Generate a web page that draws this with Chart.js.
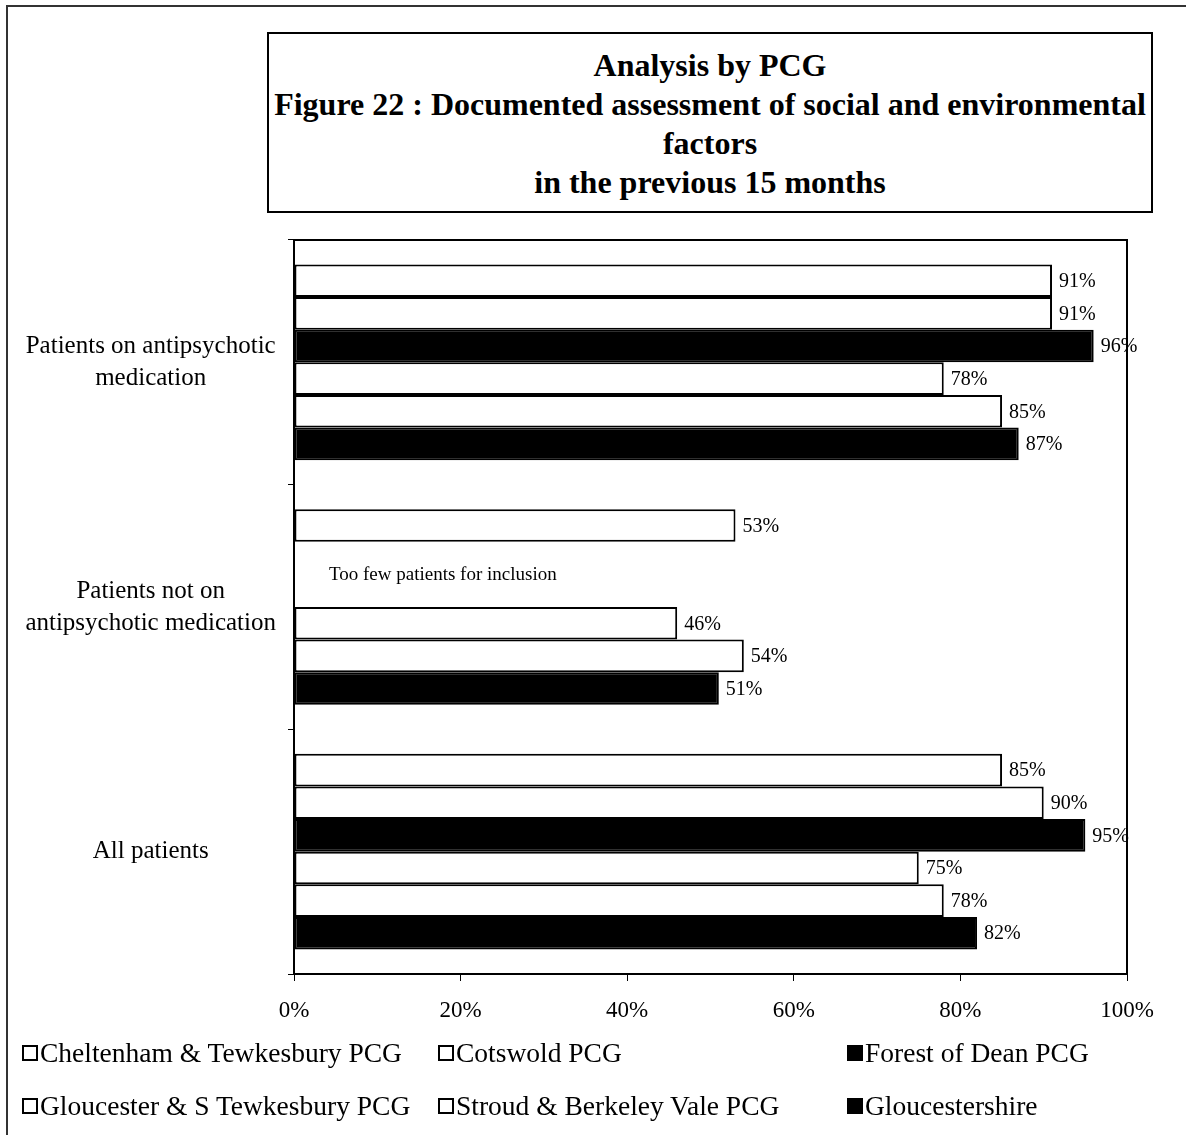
<!DOCTYPE html>
<html>
<head>
<meta charset="utf-8">
<script src="https://cdn.jsdelivr.net/npm/chart.js@4/dist/chart.umd.min.js"></script>
<style>
  html, body { margin: 0; padding: 0; background: #fff; }
  body { width: 1186px; height: 1135px; position: relative; overflow: hidden;
         font-family: "Liberation Serif", "Times New Roman", serif; color: #000; }
  #frame { position: absolute; left: 6px; top: 5px; right: -10px; bottom: -10px;
           border-top: 2px solid #333; border-left: 2px solid #333; }
  #chartWrap { position: absolute; left: 0; top: 0; width: 1186px; height: 1135px; }
  #titleBox { position: absolute; left: 267px; top: 32px; width: 882px;
              border: 2px solid #000; text-align: center; font-weight: bold;
              font-size: 32px; line-height: 39px; padding-top: 12px; box-sizing: content-box;
              height: 165px; background: #fff; }
  #legend { position: absolute; left: 22px; top: 1035px; display: grid;
            grid-template-columns: 416px 409px auto; grid-auto-rows: 53px; font-size: 27.5px; }
  .item { display: flex; align-items: center; height: 36px; white-space: nowrap; }
  .swatch { width: 12px; height: 12px; border: 2px solid #000; margin-right: 2px; flex: none; }
</style>
</head>
<body>
<div id="frame"></div>
<div id="chartWrap"><canvas id="chart" width="1186" height="1135"></canvas></div>
<div id="titleBox">Analysis by PCG<br>Figure 22 : Documented assessment of social and environmental<br>factors<br>in the previous 15 months</div>
<div id="legend"></div>
<script>
// Question groups shown down the vertical axis
const categories = [
  ['Patients on antipsychotic', 'medication'],
  ['Patients not on', 'antipsychotic medication'],
  ['All patients']
];

// One entry per PCG, listed in legend / bar order
const seriesNames = [
  'Cheltenham & Tewkesbury PCG',
  'Cotswold PCG',
  'Forest of Dean PCG',
  'Gloucester & S Tewkesbury PCG',
  'Stroud & Berkeley Vale PCG',
  'Gloucestershire'
];
const seriesFill = ['#ffffff', '#ffffff', '#000000', '#ffffff', '#ffffff', '#000000'];

// Percentage with a documented assessment (null = too few patients)
const cheltenham = [91, 53, 85];
const cotswold = [91, null, 90];
const forestOfDean = [96, null, 95];
const gloucester = [78, 46, 75];
const stroud = [85, 54, 78];
const gloucestershire = [87, 51, 82];

const xTicks = [0, 20, 40, 60, 80, 100];
const noDataNote = 'Too few patients for inclusion';

const seriesValues = [cheltenham, cotswold, forestOfDean, gloucester, stroud, gloucestershire];
const SERIF = '"Liberation Serif", "Times New Roman", serif';

const datasets = seriesNames.map((name, i) => ({
  label: name,
  data: seriesValues[i],
  backgroundColor: seriesFill[i],
  borderColor: '#000',
  borderWidth: 2,
  borderSkipped: false,
  categoryPercentage: 0.8,
  barPercentage: 1.0
}));

// Frame around the plotting area
const plotFrame = {
  id: 'plotFrame',
  afterDatasetsDraw(chart) {
    const a = chart.chartArea, ctx = chart.ctx;
    ctx.save();
    ctx.strokeStyle = '#000';
    ctx.lineWidth = 2;
    ctx.strokeRect(a.left, a.top, a.right - a.left, a.bottom - a.top);
    ctx.restore();
  }
};

// Percent labels at the end of each bar, plus the note for missing groups
const valueLabels = {
  id: 'valueLabels',
  afterDraw(chart) {
    const ctx = chart.ctx;
    ctx.save();
    ctx.fillStyle = '#000';
    ctx.font = '20px ' + SERIF;
    ctx.textAlign = 'left';
    ctx.textBaseline = 'middle';
    chart.data.datasets.forEach((ds, di) => {
      const meta = chart.getDatasetMeta(di);
      meta.data.forEach((bar, i) => {
        const v = ds.data[i];
        if (v === null || v === undefined) return;
        ctx.fillText(v + '%', bar.x + 7, bar.y + 1);
      });
    });
    // note sits in the gap left by the two empty series of the middle group
    const xs = chart.scales.x;
    const above = chart.getDatasetMeta(0).data[1];
    const below = chart.getDatasetMeta(3).data[1];
    ctx.font = '19px ' + SERIF;
    ctx.fillText(noDataNote, xs.getPixelForValue(0) + 35, (above.y + below.y) / 2 + 1);
    ctx.restore();
  }
};

new Chart(document.getElementById('chart'), {
  type: 'bar',
  data: { labels: categories, datasets },
  options: {
    indexAxis: 'y',
    responsive: false,
    animation: false,
    layout: { padding: { top: 240, right: 59, left: 0, bottom: 0 } },
    plugins: { legend: { display: false }, tooltip: { enabled: false }, title: { display: false } },
    scales: {
      x: {
        min: 0, max: 100,
        afterFit(scale) { scale.height = 161; },
        afterBuildTicks(scale) { scale.ticks = xTicks.map(v => ({ value: v })); },
        grid: { drawOnChartArea: false, color: '#000', tickLength: 7, tickWidth: 1 },
        border: { display: true, color: '#000', width: 2 },
        ticks: {
          color: '#000', padding: 16,
          font: { family: SERIF, size: 23 },
          callback: v => v + '%'
        }
      },
      y: {
        afterFit(scale) { scale.width = 294; },
        grid: { drawOnChartArea: false, color: '#000', tickLength: 6, tickWidth: 1, offset: true },
        border: { display: true, color: '#000', width: 2 },
        ticks: {
          color: '#000', padding: 12, crossAlign: 'center',
          font: { family: SERIF, size: 25, lineHeight: 1.28 }
        }
      }
    }
  },
  plugins: [plotFrame, valueLabels]
});

// Legend laid out in a fixed three-column grid
const legend = document.getElementById('legend');
seriesNames.forEach((name, i) => {
  const item = document.createElement('div');
  item.className = 'item';
  const sw = document.createElement('span');
  sw.className = 'swatch';
  sw.style.background = seriesFill[i];
  const txt = document.createElement('span');
  txt.textContent = name;
  item.appendChild(sw);
  item.appendChild(txt);
  legend.appendChild(item);
});
</script>
</body>
</html>
